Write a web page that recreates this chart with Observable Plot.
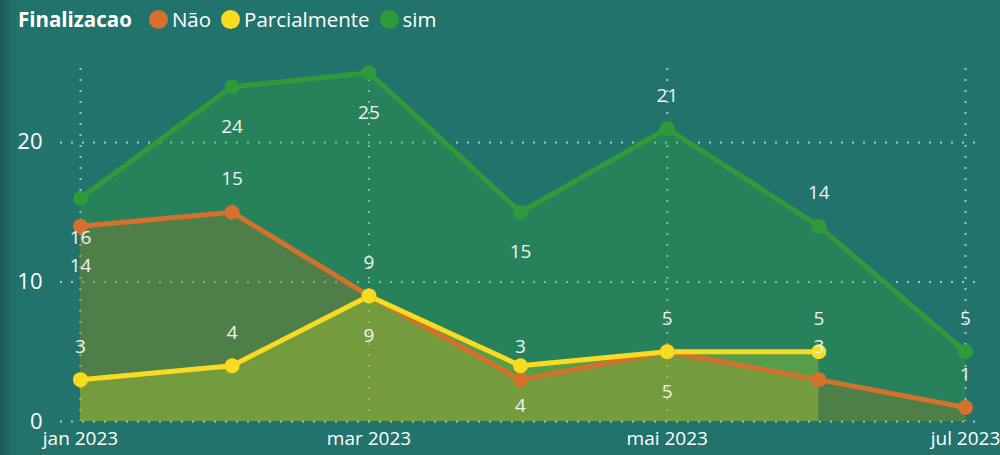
<!DOCTYPE html>
<html><head><meta charset="utf-8">
<script src="https://cdn.jsdelivr.net/npm/d3@7"></script>
<script src="https://cdn.jsdelivr.net/npm/@observablehq/plot@0.6"></script>
<style>
html,body{margin:0;padding:0;}
body{width:1000px;height:455px;overflow:hidden;background:linear-gradient(to right,#195854 0px,#1f6d67 10px,#21736b 18px);font-family:"Open Sans",sans-serif;}
#legend{height:38px;display:flex;align-items:center;padding-left:18px;color:#fff;font-size:20.5px;white-space:nowrap;}
#legend .title{font-weight:700;margin-right:17px;}
#legend .sw{display:inline-block;width:19px;height:19px;border-radius:50%;margin-right:4px;}
#legend .lab{margin-right:10px;}
#chart svg{display:block;}
</style></head>
<body>
<div id="legend"></div>
<div id="chart"></div>
<script>
const legendTitle = "Finalizacao";
const seriesNames = ["Não", "Parcialmente", "sim"];
const monthDates = ["2023-01-01","2023-02-01","2023-03-01","2023-04-01","2023-05-01","2023-06-01","2023-07-01"];
const monthNames = ["jan","fev","mar","abr","mai","jun","jul","ago","set","out","nov","dez"];
const tickDates = ["2023-01-01","2023-03-01","2023-05-01","2023-07-01"];
const yTicks = [0, 10, 20];

const simValues = [16, 24, 25, 15, 21, 14, 5];
const naoValues = [14, 15, 9, 3, 5, 3, 1];
const parcialValues = [3, 4, 9, 4, 5, 5];

const simLabelPos = ["below","below","below","below","above","above","above"];
const naoLabelPos = ["below","above","above","above","below","above","above"];
const parcialLabelPos = ["above","above","below","below","above","above"];

const lineColors = {"Não": "#d4712c", "Parcialmente": "#f9dc22", "sim": "#2f9a3a"};
const fillColors = {"Não": "rgb(172,123,33)", "Parcialmente": "rgb(202,221,33)", "sim": "rgb(53,167,57)"};

const parse = d3.utcParse("%Y-%m-%d");
function rowsFor(name, values, pos) {
  return values.map((v, i) => ({series: name, date: parse(monthDates[i]), value: v, pos: pos[i]}));
}
const simRows = rowsFor("sim", simValues, simLabelPos);
const naoRows = rowsFor("Não", naoValues, naoLabelPos);
const parcialRows = rowsFor("Parcialmente", parcialValues, parcialLabelPos);
const allRows = [...simRows, ...naoRows, ...parcialRows];
const layers = [["sim", simRows], ["Não", naoRows], ["Parcialmente", parcialRows]];

// legend
const legend = document.getElementById("legend");
legend.innerHTML = `<span class="title">${legendTitle}</span>` +
  seriesNames.map(n => `<span class="sw" style="background:${lineColors[n]}"></span><span class="lab">${n}</span>`).join("");

const grid = {stroke: "#d6e2de", strokeOpacity: 0.75, strokeWidth: 2, strokeDasharray: "2,9"};

const chart = Plot.plot({
  width: 1000,
  height: 417,
  marginLeft: 80,
  marginRight: 35,
  marginTop: 30,
  marginBottom: 34,
  style: {background: "transparent", color: "#ffffff", fontFamily: "Open Sans, sans-serif", overflow: "visible"},
  x: {type: "utc", domain: [parse(monthDates[0]), parse(monthDates[monthDates.length - 1])]},
  y: {domain: [0, 25.3]},
  marks: [
    Plot.gridY(yTicks.slice(1), {...grid, insetLeft: -20, insetRight: -13}),
    Plot.ruleY([0], {...grid, insetLeft: -20, insetRight: -13}),
    Plot.gridX(tickDates.map(parse), grid),
    ...layers.map(([n, rows]) => Plot.areaY(rows, {x: "date", y: "value", fill: fillColors[n], fillOpacity: 0.3})),
    ...layers.map(([n, rows]) => Plot.lineY(rows, {x: "date", y: "value", stroke: lineColors[n], strokeWidth: 5})),
    ...layers.map(([n, rows]) => Plot.dot(rows, {x: "date", y: "value", fill: lineColors[n], r: 7.5})),
    Plot.text(allRows.filter(d => d.pos === "above"), {x: "date", y: "value", text: d => String(d.value), dy: -33, fill: "#f2f2f2", fontSize: 19}),
    Plot.text(allRows.filter(d => d.pos === "below"), {x: "date", y: "value", text: d => String(d.value), dy: 40, fill: "#f2f2f2", fontSize: 19}),
    Plot.axisY({ticks: yTicks, tickSize: 0, tickPadding: 38, fontSize: 22, label: null}),
    Plot.axisX({ticks: tickDates.map(parse), tickSize: 0, tickPadding: 10, fontSize: 19, label: null,
      tickFormat: d => monthNames[d.getUTCMonth()] + " " + d.getUTCFullYear()})
  ]
});
document.getElementById("chart").appendChild(chart);
</script>
</body></html>
